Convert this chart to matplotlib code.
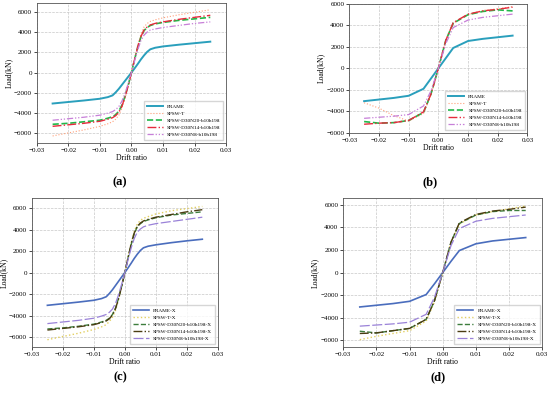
import matplotlib
matplotlib.use("Agg")
import matplotlib.pyplot as plt

plt.rcParams["font.family"] = ["Liberation Serif", "DejaVu Serif"]

# ---- data: smooth curves (a), (c) ----
drift_smooth = [-0.025, -0.02, -0.015, -0.01, -0.0075, -0.006, -0.005, -0.004, -0.003, -0.002, -0.001, 0.0,
                0.001, 0.002, 0.003, 0.004, 0.005, 0.006, 0.0075, 0.01, 0.015, 0.02, 0.025]

a_frame = [-3050, -2900, -2750, -2580, -2420, -2250, -1950, -1600, -1200, -800, -400, 0,
           420, 850, 1300, 1700, 2050, 2300, 2450, 2580, 2750, 2900, 3050]
a_t = [-6250, -5950, -5650, -5300, -5050, -4850, -4600, -4200, -3500, -2500, -1300, 0,
       1400, 2700, 3800, 4500, 4850, 5050, 5200, 5400, 5700, 5950, 6200]
a_n20 = [-5100, -5000, -4850, -4700, -4500, -4350, -4150, -3800, -3200, -2300, -1200, 0,
         1300, 2500, 3500, 4150, 4450, 4650, 4800, 4950, 5150, 5300, 5450]
a_n14 = [-5300, -5150, -5000, -4800, -4600, -4450, -4250, -3900, -3300, -2350, -1250, 0,
         1300, 2550, 3550, 4200, 4500, 4700, 4850, 5000, 5250, 5450, 5650]
a_n8 = [-4700, -4550, -4400, -4200, -4000, -3850, -3650, -3350, -2800, -2000, -1050, 0,
        1150, 2250, 3150, 3700, 4000, 4200, 4300, 4450, 4650, 4850, 5000]

c_frame = [-3050, -2900, -2750, -2580, -2420, -2250, -1950, -1600, -1200, -800, -400, 0,
           420, 850, 1300, 1700, 2050, 2300, 2450, 2580, 2780, 2950, 3100]
c_t = [-6250, -5950, -5650, -5300, -5050, -4850, -4550, -4150, -3500, -2500, -1300, 0,
       1400, 2700, 3800, 4500, 4850, 5050, 5200, 5450, 5750, 5950, 6150]
c_n20 = [-5250, -5150, -5000, -4800, -4600, -4450, -4250, -3900, -3300, -2350, -1250, 0,
         1300, 2550, 3600, 4250, 4550, 4750, 4900, 5100, 5350, 5500, 5650]
c_n14 = [-5350, -5200, -5050, -4850, -4650, -4500, -4300, -3950, -3350, -2400, -1250, 0,
         1350, 2600, 3650, 4300, 4600, 4800, 4950, 5150, 5400, 5650, 5850]
c_n8 = [-4750, -4600, -4450, -4250, -4050, -3900, -3700, -3400, -2850, -2050, -1050, 0,
        1150, 2250, 3150, 3750, 4050, 4250, 4400, 4550, 4750, 4950, 5150]

# ---- data: piecewise curves (b), (d) ----
drift_steps = [-0.025, -0.02, -0.015, -0.01, -0.005, -0.0025, 0.0, 0.0025, 0.005, 0.01, 0.015, 0.02, 0.025]

b_frame = [-3050, -2900, -2750, -2550, -1900, -950, 0, 950, 1900, 2550, 2750, 2900, 3050]
b_t = [-3200, -3700, -4400, -4900, -4200, -2500, 0, 2600, 4200, 5000, 5400, 5550, 5750]
b_n20 = [-4950, -5100, -5050, -4850, -4100, -2400, 0, 2600, 4200, 5000, 5300, 5450, 5350]
b_n14 = [-5200, -5100, -5050, -4850, -4050, -2400, 0, 2600, 4250, 5050, 5350, 5500, 5700]
b_n8 = [-4650, -4550, -4450, -4300, -3500, -2100, 0, 2300, 3800, 4500, 4750, 4900, 5050]

d_frame = [-3050, -2900, -2750, -2550, -1950, -1000, 0, 1000, 1950, 2550, 2800, 2950, 3100]
d_t = [-5950, -5650, -5400, -5150, -4300, -2600, 0, 2700, 4300, 5100, 5400, 5650, 5900]
d_n20 = [-5200, -5350, -5150, -4950, -4150, -2500, 0, 2700, 4350, 5100, 5400, 5500, 5500]
d_n14 = [-5400, -5350, -5150, -4950, -4150, -2500, 0, 2700, 4400, 5150, 5450, 5600, 5800]
d_n8 = [-4750, -4650, -4550, -4400, -3700, -2200, 0, 2400, 3900, 4550, 4800, 4950, 5100]

names = ["FRAME", "SPSW-T", "SPSW-D30N20-b10h198", "SPSW-D30N14-b10h198", "SPSW-D30N8-b10h198"]

style_ab = [dict(color="#2a9fbc", lw=1.4, ls="-"),
            dict(color="#ffa07a", lw=0.8, ls=":"),
            dict(color="#22b84a", lw=1.2, ls="--"),
            dict(color="#e62a3c", lw=1.0, ls="-."),
            dict(color="#c77fd8", lw=0.9, ls=(0, (5, 1.5, 1, 1.5, 1, 1.5)))]
style_cd = [dict(color="#4a6dbd", lw=1.2, ls="-"),
            dict(color="#e2cf60", lw=1.0, ls=":"),
            dict(color="#3d7d3d", lw=1.0, ls="--"),
            dict(color="#4a3c12", lw=1.0, ls="-."),
            dict(color="#9a82d8", lw=0.9, ls=(0, (8, 2)))]

panels = [
    ([0.067, 0.636, 0.344, 0.356], drift_smooth, [a_frame, a_t, a_n20, a_n14, a_n8], style_ab, "", (-6950, 6850), "(a)", (0.218, 0.535)),
    ([0.635, 0.662, 0.324, 0.328], drift_steps, [b_frame, b_t, b_n20, b_n14, b_n8], style_ab, "", (-6000, 6000), "(b)", (0.782, 0.535)),
    ([0.058, 0.117, 0.338, 0.379], drift_smooth, [c_frame, c_t, c_n20, c_n14, c_n8], style_cd, "-X", (-6930, 6930), "(c)", (0.218, 0.04)),
    ([0.624, 0.117, 0.362, 0.379], drift_steps, [d_frame, d_t, d_n20, d_n14, d_n8], style_cd, "-X", (-6600, 6600), "(d)", (0.797, 0.04)),
]

fig = plt.figure(figsize=(5.5, 3.93), dpi=100)
for rect, xs, series, styles, suffix, ylim, tag, tagpos in panels:
    ax = fig.add_axes(rect)
    for name, ys, st in zip(names, series, styles):
        ax.plot(xs, ys, label=name + suffix, **st)
    ax.set_xlim(-0.03, 0.03)
    ax.set_ylim(*ylim)
    ax.set_xticks([-0.03, -0.02, -0.01, 0.0, 0.01, 0.02, 0.03])
    ax.set_yticks([-6000, -4000, -2000, 0, 2000, 4000, 6000])
    ax.grid(True, ls="--", lw=0.5, color="#c8c8c8")
    ax.tick_params(labelsize=5, length=2, width=0.5, pad=1.5)
    for sp in ax.spines.values():
        sp.set_linewidth(0.6)
        sp.set_color("#555555")
    ax.set_xlabel("Drift ratio", fontsize=5.5, labelpad=1)
    ax.set_ylabel("Load(kN)", fontsize=5.5, labelpad=1)
    ax.legend(loc="lower right", fontsize=3.8, handlelength=3, labelspacing=0.45,
              borderpad=0.6, frameon=True, fancybox=False, edgecolor="#cccccc")
    fig.text(tagpos[0], tagpos[1], tag, fontsize=9, fontweight="bold", ha="center", va="center")

fig.savefig("out.png", dpi=100)
